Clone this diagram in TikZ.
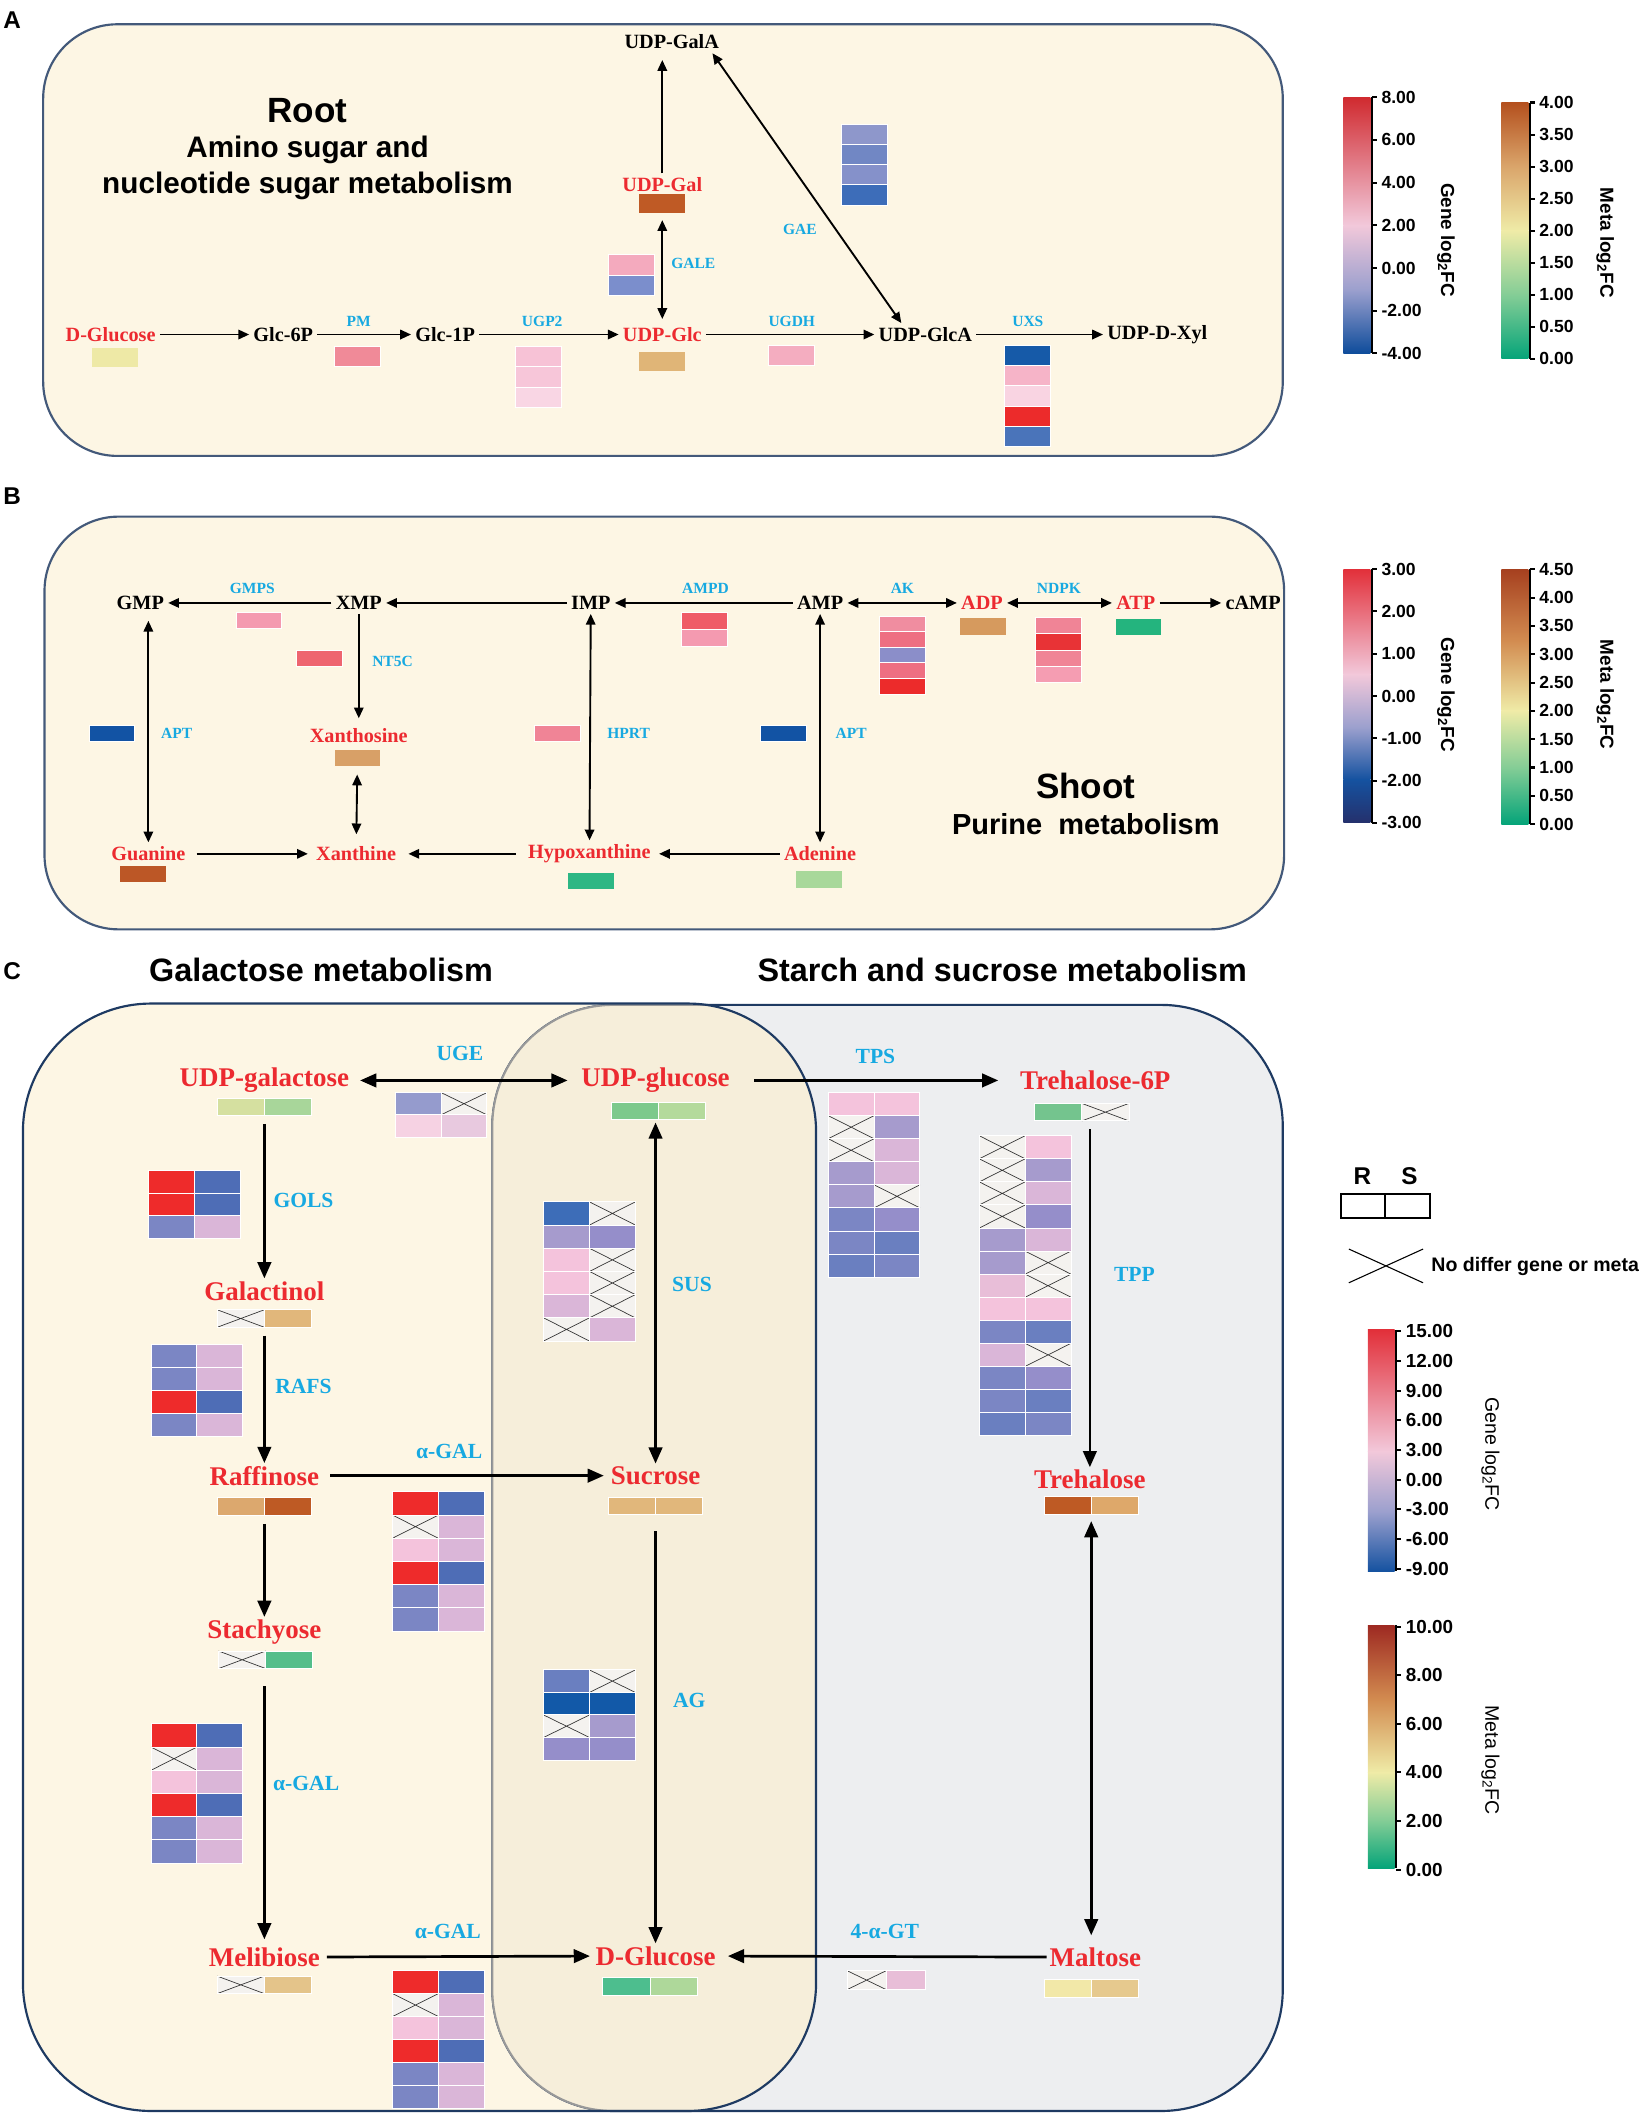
\documentclass[tikz,border=0pt]{standalone}
\usepackage{fontspec}
\setmainfont{Liberation Serif}
\setsansfont{Liberation Sans}
\usepackage{tikz}
\usetikzlibrary{arrows.meta, positioning}

% frame colours
\definecolor{cream}{HTML}{FDF6E4}
\definecolor{panelline}{HTML}{43597A}
\definecolor{navy}{HTML}{1E3A62}
\definecolor{starchbg}{HTML}{EDEEF0}
\definecolor{overlapbg}{HTML}{F6EEDA}
\definecolor{metred}{HTML}{EC2A30}
\definecolor{enzblue}{HTML}{17A9E1}
\definecolor{nodiff}{HTML}{F4F2EF}
% gene cells
\definecolor{hR}{HTML}{EE2B2B}
\definecolor{hB}{HTML}{4E6DB6}
\definecolor{hDB}{HTML}{1259A8}
\definecolor{hM}{HTML}{3D6DB8}
\definecolor{hL}{HTML}{7B86C4}
\definecolor{hL2}{HTML}{6A7FC0}
\definecolor{hLL}{HTML}{958ECA}
\definecolor{hLV}{HTML}{959BCD}
\definecolor{hV}{HTML}{A69BCD}
\definecolor{hPV}{HTML}{DAB6D8}
\definecolor{hPK}{HTML}{E8BED8}
\definecolor{hP}{HTML}{F4C3DC}
\definecolor{hPP}{HTML}{F6D2E3}
\definecolor{hPL}{HTML}{E8C9DF}
% metabolite cells
\definecolor{mYG}{HTML}{D5E0A0}
\definecolor{mG1}{HTML}{A8D69A}
\definecolor{mG2}{HTML}{7CC98C}
\definecolor{mG3}{HTML}{B4DA9C}
\definecolor{mG4}{HTML}{74C48E}
\definecolor{mG5}{HTML}{54BE8A}
\definecolor{mG6}{HTML}{4DBE8E}
\definecolor{mG7}{HTML}{AED89A}
\definecolor{mT1}{HTML}{E1B77B}
\definecolor{mT2}{HTML}{DCA86E}
\definecolor{mT3}{HTML}{E4C48A}
\definecolor{mT4}{HTML}{DEA86A}
\definecolor{mT5}{HTML}{E6C98E}
\definecolor{mBr}{HTML}{BE5A24}
\definecolor{mY}{HTML}{F2E8A8}
% panel A cells
\definecolor{aDG}{HTML}{EEE9A6}
\definecolor{aPM}{HTML}{F08A98}
\definecolor{aU1}{HTML}{F7C2D6}
\definecolor{aU2}{HTML}{F7C6D9}
\definecolor{aU3}{HTML}{F9D6E4}
\definecolor{aGlc}{HTML}{E0B577}
\definecolor{aUG}{HTML}{F4ADC0}
\definecolor{aX1}{HTML}{165AA8}
\definecolor{aX2}{HTML}{F6B4C8}
\definecolor{aX3}{HTML}{F9D4E2}
\definecolor{aX4}{HTML}{EC2B2B}
\definecolor{aX5}{HTML}{4A74BA}
\definecolor{aGal}{HTML}{BF5A25}
\definecolor{aGE1}{HTML}{F4AABE}
\definecolor{aGE2}{HTML}{7B8ECC}
\definecolor{aGA1}{HTML}{8E97CB}
\definecolor{aGA2}{HTML}{7187C4}
\definecolor{aGA3}{HTML}{8591CA}
\definecolor{aGA4}{HTML}{3D6DB9}
% panel B cells
\definecolor{bGMPS}{HTML}{F49AB0}
\definecolor{bAM1}{HTML}{EF5B67}
\definecolor{bAK1}{HTML}{F08DA0}
\definecolor{bAK2}{HTML}{EE6F82}
\definecolor{bAK3}{HTML}{8B8EC9}
\definecolor{bAK5}{HTML}{EC2B2B}
\definecolor{bADP}{HTML}{D69A5E}
\definecolor{bND1}{HTML}{F08496}
\definecolor{bND2}{HTML}{E83336}
\definecolor{bND4}{HTML}{F59DB2}
\definecolor{bATP}{HTML}{24B47E}
\definecolor{bNT}{HTML}{EE6570}
\definecolor{bXs}{HTML}{D8A067}
\definecolor{bAPT}{HTML}{1253A4}
\definecolor{bGua}{HTML}{BC5726}
\definecolor{bHx}{HTML}{2DB784}
\definecolor{bAde}{HTML}{A8D89A}
% scale bars
\definecolor{sgR}{HTML}{D02A2F}
\definecolor{sgR2}{HTML}{E2303A}
\definecolor{sgP}{HTML}{F2C8DA}
\definecolor{sgL}{HTML}{9CA0CE}
\definecolor{sgB}{HTML}{0E4C9B}
\definecolor{sgB2}{HTML}{1552A0}
\definecolor{sgN}{HTML}{25306C}
\definecolor{smDR}{HTML}{9E2A22}
\definecolor{smBr}{HTML}{B4501E}
\definecolor{smBr2}{HTML}{A6401F}
\definecolor{smO}{HTML}{D28B50}
\definecolor{smT}{HTML}{DAA56B}
\definecolor{smY}{HTML}{EFEBA7}
\definecolor{smLG}{HTML}{84CD96}
\definecolor{smG}{HTML}{05A479}

% heat cells, X = no differ
\def\hmX{X}
\def\cellw{34}
\def\cellh{15}
\newcommand{\hmcell}[3]{%
  \edef\hmarg{#3}%
  \ifx\hmarg\hmX
    \fill[nodiff] (#1,#2) rectangle ++(\cellw,\cellh);
    \draw[xline] (#1,#2) -- ++(\cellw,\cellh) ++(-\cellw,0) -- ++(\cellw,-\cellh);
  \else
    \fill[fill=\hmarg] (#1,#2) rectangle ++(\cellw,\cellh);
  \fi
  \draw[cellsep] (#1,#2) rectangle ++(\cellw,\cellh);}
\newcommand{\hmcol}[3]{%
  \foreach \hmA [count=\hmi from 0] in {#3} {\hmcell{#1}{#2+\hmi*\cellh}{\hmA}}}
\newcommand{\hmgrid}[3]{%
  \foreach \hmA/\hmB [count=\hmi from 0] in {#3} {%
    \hmcell{#1}{#2+\hmi*\cellh}{\hmA}
    \hmcell{#1+\cellw}{#2+\hmi*\cellh}{\hmB}}}
% R/S bar under a metabolite
\newcommand{\rsbar}[5]{%
  \node[mbarrs] at (#2,#3) (#1) {};
  \hmcell{#2-35}{#3-6.5}{#4}
  \hmcell{#2}{#3-6.5}{#5}}

\begin{document}
\begin{tikzpicture}[x=1pt, y=-1pt,
    met/.style={font=\bfseries\fontsize{15}{17}\selectfont, inner sep=3pt},
    metr/.style={met, text=metred},
    enz/.style={font=\bfseries\fontsize{11.5}{13}\selectfont, text=enzblue, inner sep=1pt},
    cmet/.style={font=\bfseries\fontsize{20}{22}\selectfont, text=metred, inner sep=2pt},
    cenz/.style={font=\bfseries\fontsize{16}{18}\selectfont, text=enzblue, inner sep=1pt},
    ptitle/.style={font=\sffamily\bfseries\fontsize{26}{30}\selectfont},
    psub/.style={font=\sffamily\bfseries\fontsize{22}{27}\selectfont, align=center},
    csub/.style={font=\sffamily\bfseries\fontsize{24}{28}\selectfont},
    pletter/.style={font=\sffamily\bfseries\fontsize{18}{20}\selectfont},
    panel/.style={draw=panelline, line width=1.6pt, fill=cream, rounded corners=55pt},
    arr/.style={line width=1.4pt, -{Triangle[length=8pt, width=7pt]}},
    darr/.style={line width=1.4pt, {Triangle[length=8pt, width=7pt]}-{Triangle[length=8pt, width=7pt]}},
    carr/.style={line width=2pt, -{Triangle[length=12pt, width=10pt]}},
    cdarr/.style={line width=2pt, {Triangle[length=12pt, width=10pt]}-{Triangle[length=12pt, width=10pt]}},
    mbox/.style={minimum width=34pt, minimum height=14pt, inner sep=0pt},
    mboxb/.style={minimum width=34pt, minimum height=12pt, inner sep=0pt},
    mbarrs/.style={minimum width=70pt, minimum height=13pt, inner sep=0pt},
    xline/.style={black!80, line width=0.5pt},
    cellsep/.style={white, line width=0.7pt},
    scaleaxis/.style={black, line width=1.5pt},
    ticklab/.style={anchor=west, inner sep=2.5pt, font=\sffamily\bfseries\fontsize{13}{15}\selectfont},
    cticklab/.style={ticklab, font=\sffamily\bfseries\fontsize{14}{16}\selectfont},
    scalelab/.style={rotate=-90, font=\sffamily\bfseries\fontsize{14}{16}\selectfont},
    cscalelab/.style={rotate=-90, font=\sffamily\fontsize{14.5}{16}\selectfont}]

    \useasboundingbox (0,0) rectangle (1221,1568);

    % ---------------- A ----------------
    \node[pletter] at (9,15) (la) {A};
    \draw[panel] (32,18) rectangle (951,338);
    \node[ptitle] at (228,82) (root) {Root};
    \node[psub] at (228,124.5) (rootsub) {Amino sugar and\\nucleotide sugar metabolism};

    \node[metr] at (82,248) (dglc) {D-Glucose};
    \node[met] at (210,248) (g6p) {Glc-6P};
    \node[met] at (330,248) (g1p) {Glc-1P};
    \node[metr] at (491,248) (udpglc) {UDP-Glc};
    \node[met] at (686,248) (udpglca) {UDP-GlcA};
    \node[met] at (858,248) (udpxyl) {UDP-D-Xyl};
    \node[metr] at (491,137) (udpgal) {UDP-Gal};
    \node[met] at (498,31) (udpgala) {UDP-GalA};

    \node[mbox, fill=aDG] at (85,265) (dglc-m) {};
    \node[mbox, fill=aGlc] at (491,268) (udpglc-m) {};
    \node[mbox, fill=aGal] at (491,151) (udpgal-m) {};

    \node[enz] at (266,238) (pm) {PM};
    \node[enz] at (402,238) (ugp2) {UGP2};
    \node[enz] at (587,238) (ugdh) {UGDH};
    \node[enz] at (762,238) (uxs) {UXS};
    \node[enz] at (514,195) (gale) {GALE};
    \node[enz] at (593,170) (gae) {GAE};

    \def\cellw{34}\def\cellh{15}
    \hmcol{248}{257}{aPM}
    \hmcol{382}{257}{aU1,aU2,aU3}
    \hmcol{570}{256}{aUG}
    \hmcol{745}{256}{aX1,aX2,aX3,aX4,aX5}
    \hmcol{451}{189}{aGE1,aGE2}
    \hmcol{624}{92}{aGA1,aGA2,aGA3,aGA4}

    \draw[arr] (dglc) -- (g6p);
    \draw[arr] (g6p) -- (g1p);
    \draw[arr] (g1p) -- (udpglc);
    \draw[arr] (udpglc) -- (udpglca);
    \draw[arr] (udpglca) -- (udpxyl);
    \draw[darr, shorten <=3pt, shorten >=5pt] (udpglc) -- (udpgal-m);
    \draw[arr, shorten >=5pt] (udpgal) -- (udpgal |- udpgala.south);
    \draw[darr] ([xshift=-8pt]udpgala.south east) -- ([xshift=20pt]udpglca.north west);

    % scales A
    \shade[top color=sgR, bottom color=sgP] (996,72) rectangle (1016,167);
    \shade[top color=sgP, bottom color=sgB, middle color=sgL] (996,167) rectangle (1016,262);
    \draw[scaleaxis] (1017,72) -- (1017,262);
    \foreach \v [count=\i from 0] in {8.00,6.00,4.00,2.00,0.00,-2.00,-4.00}
        \draw[scaleaxis] (1017,72+\i*31.67) -- ++(4,0) node[ticklab] (gA\i) {\v};
    \node[scalelab] at (1072,178) (gAlab) {Gene log\textsubscript{2}FC};

    \shade[top color=smBr, bottom color=smY, middle color=smT] (1113,76) rectangle (1133,171);
    \shade[top color=smY, bottom color=smG, middle color=smLG] (1113,171) rectangle (1133,266);
    \draw[scaleaxis] (1134,76) -- (1134,266);
    \foreach \v [count=\i from 0] in {4.00,3.50,3.00,2.50,2.00,1.50,1.00,0.50,0.00}
        \draw[scaleaxis] (1134,76+\i*23.75) -- ++(4,0) node[ticklab] (mA\i) {\v};
    \node[scalelab] at (1190,180) (mAlab) {Meta log\textsubscript{2}FC};

    % ---------------- B ----------------
    \node[pletter] at (9,368) (lb) {B};
    \draw[panel] (33,383) rectangle (952,689);

    \node[met] at (104,447) (gmp) {GMP};
    \node[met] at (266,447) (xmp) {XMP};
    \node[met] at (438,447) (imp) {IMP};
    \node[met] at (608,447) (amp) {AMP};
    \node[metr] at (728,447) (adp) {ADP};
    \node[metr] at (842,447) (atp) {ATP};
    \node[met] at (929,447) (camp) {cAMP};
    \node[metr] at (266,545) (xanthosine) {Xanthosine};
    \node[metr] at (110,633) (guanine) {Guanine};
    \node[metr] at (264,633) (xanthine) {Xanthine};
    \node[metr] at (437,633) (hypox) {Hypoxanthine};
    \node[metr] at (608,633) (adenine) {Adenine};

    \node[mboxb, fill=bADP] at (729,464.5) (adp-m) {};
    \node[mboxb, fill=bATP] at (844,465) (atp-m) {};
    \node[mboxb, fill=bXs] at (265,562) (xanthosine-m) {};
    \node[mboxb, fill=bGua] at (106,648) (guanine-m) {};
    \node[mboxb, fill=bHx] at (438,653) (hypox-m) {};
    \node[mboxb, fill=bAde] at (607,652) (adenine-m) {};

    \node[enz] at (187,436) (gmps) {GMPS};
    \node[enz] at (523,436) (ampd) {AMPD};
    \node[enz] at (669,436) (ak) {AK};
    \node[enz] at (785,436) (ndpk) {NDPK};
    \node[enz] at (291,490) (nt5c) {NT5C};
    \node[enz] at (131,544) (apt1) {APT};
    \node[enz] at (466,544) (hprt) {HPRT};
    \node[enz] at (631,544) (apt2) {APT};

    \def\cellh{12}
    \hmcol{175}{454}{bGMPS}
    \hmcol{220}{482}{bNT}
    \hmcol{66}{538}{bAPT}
    \hmcol{396}{538}{bND1}
    \hmcol{564}{538}{bAPT}
    \hmcol{768}{458}{bND1,bND2,bND1,bND4}
    \def\cellh{12.5}
    \hmcol{505}{454}{bAM1,bGMPS}
    \def\cellh{11.5}
    \hmcol{652}{457}{bAK1,bAK2,bAK3,bAK2,bAK5}

    \draw[arr] (xmp) -- (gmp);
    \draw[arr] (imp) -- (xmp);
    \draw[arr] (amp) -- (imp);
    \draw[darr] (amp) -- (adp);
    \draw[darr] (adp) -- (atp);
    \draw[arr] (atp) -- (camp);
    \draw[arr, shorten >=4pt] (xmp) -- (xanthosine);
    \draw[darr, shorten <=6pt, shorten >=6pt] (xanthosine-m) -- (xanthine);
    \draw[darr, shorten <=5pt] (gmp.south -| guanine) -- (guanine);
    \draw[darr] (imp) -- (hypox);
    \draw[darr] (amp) -- (adenine);
    \draw[arr, shorten <=5pt, shorten >=3pt] (guanine) -- (xanthine);
    \draw[arr, shorten <=6pt, shorten >=6pt] (hypox) -- (xanthine);
    \draw[arr, shorten >=3pt] (adenine) -- (hypox);

    \node[ptitle] at (805,583) (shoot) {Shoot};
    \node[psub, font=\sffamily\bfseries\fontsize{21.5}{25}\selectfont] at (805,611) (shootsub) {Purine~ metabolism};

    % scales B
    \shade[top color=sgR2, bottom color=sgP] (996,422) rectangle (1016,500);
    \shade[top color=sgP, bottom color=sgB2, middle color=sgL] (996,500) rectangle (1016,578);
    \shade[top color=sgB2, bottom color=sgN] (996,578) rectangle (1016,610);
    \draw[scaleaxis] (1017,422) -- (1017,610);
    \foreach \v [count=\i from 0] in {3.00,2.00,1.00,0.00,-1.00,-2.00,-3.00}
        \draw[scaleaxis] (1017,422+\i*31.33) -- ++(4,0) node[ticklab] (gB\i) {\v};
    \node[scalelab] at (1072,515) (gBlab) {Gene log\textsubscript{2}FC};

    \shade[top color=smBr2, bottom color=smY, middle color=smO] (1113,422) rectangle (1133,527);
    \shade[top color=smY, bottom color=smG, middle color=smLG] (1113,527) rectangle (1133,611);
    \draw[scaleaxis] (1134,422) -- (1134,611);
    \foreach \v [count=\i from 0] in {4.50,4.00,3.50,3.00,2.50,2.00,1.50,1.00,0.50,0.00}
        \draw[scaleaxis] (1134,422+\i*21) -- ++(4,0) node[ticklab] (mB\i) {\v};
    \node[scalelab] at (1190,515) (mBlab) {Meta log\textsubscript{2}FC};

    % ---------------- C ----------------
    \node[pletter] at (9,720) (lc) {C};
    \node[csub] at (238,719) (galtitle) {Galactose metabolism};
    \node[csub] at (743,719) (starchtitle) {Starch and sucrose metabolism};

    \fill[cream, rounded corners=95pt] (17,744) rectangle (605,1565);
    \fill[starchbg, rounded corners=90pt] (365,745) rectangle (951,1565);
    \draw[navy, line width=1.6pt, rounded corners=90pt] (365,745) rectangle (951,1565);
    \begin{scope}
        \clip[rounded corners=95pt] (17,744) rectangle (605,1565);
        \fill[overlapbg, rounded corners=90pt] (365,745) rectangle (951,1565);
        \draw[gray!80, line width=1.5pt, rounded corners=90pt] (365,745) rectangle (951,1565);
    \end{scope}
    \draw[navy, line width=1.6pt, rounded corners=95pt] (17,744) rectangle (605,1565);

    \node[cmet] at (196,801) (udpgalc) {UDP-galactose};
    \node[cmet] at (486,801) (udpglcc) {UDP-glucose};
    \node[cmet] at (812,801) (tre6p) {Trehalose-6P};
    \node[cmet] at (196,957) (galactinol) {Galactinol};
    \node[cmet] at (196,1094) (raffinose) {Raffinose};
    \node[cmet] at (486,1094) (sucrose) {Sucrose};
    \node[cmet] at (196,1210) (stachyose) {Stachyose};
    \node[cmet] at (196,1451) (melibiose) {Melibiose};
    \node[cmet] at (486,1450) (dglcc) {D-Glucose};
    \node[cmet] at (808,1097) (trehalose) {Trehalose};
    \node[cmet] at (812,1451) (maltose) {Maltose};

    \def\cellw{35}\def\cellh{13}
    \rsbar{udpgalc-m}{196}{820.5}{mYG}{mG1}
    \rsbar{udpglcc-m}{488}{823.5}{mG2}{mG3}
    \rsbar{tre6p-m}{802}{824.5}{mG4}{X}
    \rsbar{galactinol-m}{196}{977.5}{X}{mT1}
    \rsbar{raffinose-m}{196}{1117}{mT2}{mBr}
    \rsbar{sucrose-m}{486}{1116.5}{mT1}{mT1}
    \rsbar{stachyose-m}{197}{1230.5}{X}{mG5}
    \rsbar{melibiose-m}{196}{1471.5}{X}{mT3}
    \rsbar{dglcc-m}{482}{1472.5}{mG6}{mG7}
    \rsbar{trehalose-m}{809}{1116}{mBr}{mT4}
    \rsbar{maltose-m}{809}{1474}{mY}{mT5}

    \node[cenz] at (341,781) (uge) {UGE};
    \node[cenz] at (649,783) (tps) {TPS};
    \node[cenz] at (225,890) (gols) {GOLS};
    \node[cenz] at (513,952) (sus) {SUS};
    \node[cenz] at (841,945) (tpp) {TPP};
    \node[cenz] at (225,1028) (rafs) {RAFS};
    \node[cenz] at (333,1076) (agal1) {α-GAL};
    \node[cenz] at (227,1322) (agal2) {α-GAL};
    \node[cenz] at (511,1261) (ag) {AG};
    \node[cenz] at (332,1432) (agal3) {α-GAL};
    \node[cenz] at (656,1432) (agt) {4-α-GT};

    \def\cellw{34}\def\cellh{16.5}
    \hmgrid{293}{810}{hLV/X, hPP/hPL}
    \def\cellh{17.1}
    \hmgrid{614}{810}{hP/hP, X/hV, X/hPV, hV/hPV, hV/X, hL/hLL, hL/hL2, hL2/hL}
    \hmgrid{726}{842}{X/hP, X/hV, X/hPV, X/hLL, hV/hPV, hV/X, hPK/X, hP/hP,
        hL/hL2, hPV/X, hL/hLL, hL/hL2, hL2/hL}
    \def\cellh{16.7}
    \hmgrid{110}{868}{hR/hB, hR/hB, hL/hPV}
    \hmgrid{403}{1238}{hL2/X, hDB/hDB, X/hV, hLL/hLL}
    \def\cellh{17}
    \hmgrid{112}{997}{hL/hPV, hL/hPV, hR/hB, hL/hPV}
    \hmgrid{291}{1461}{hR/hB, X/hPV, hP/hPV, hR/hB, hL/hPV, hL/hPV}
    \def\cellh{17.2}
    \hmgrid{403}{891}{hM/X, hV/hLL, hP/X, hP/X, hPV/X, X/hPV}
    \hmgrid{291}{1106}{hR/hB, X/hPV, hP/hPV, hR/hB, hL/hPV, hL/hPV}
    \hmgrid{112}{1278}{hR/hB, X/hPV, hP/hPV, hR/hB, hL/hPV, hL/hPV}
    \def\cellw{29}\def\cellh{14}
    \hmgrid{628}{1461}{X/hPK}

    \draw[cdarr, shorten <=6pt, shorten >=8pt] (udpgalc) -- (udpglcc);
    \draw[carr, shorten <=16pt, shorten >=14pt] (udpglcc) -- (tre6p);
    \draw[carr, shorten <=6pt] (udpgalc-m) -- (galactinol);
    \draw[carr, shorten <=6pt] (galactinol-m) -- (raffinose);
    \draw[carr, shorten <=6pt] (raffinose-m) -- (stachyose.north -| raffinose-m);
    \draw[carr, shorten <=13pt, shorten >=4pt] (stachyose-m.south -| melibiose) -- (melibiose);
    \draw[cdarr, shorten <=2pt] (udpglcc-m.south -| sucrose) -- (sucrose);
    \draw[carr, shorten <=12pt] (sucrose-m) -- (dglcc);
    \draw[carr, shorten <=6pt, shorten >=3pt] (raffinose) -- (sucrose);
    \draw[carr, shorten <=3pt, shorten >=2pt] (melibiose) -- (dglcc);
    \draw[carr, shorten >=7pt] (maltose) -- (dglcc);
    \draw[carr, shorten <=6pt] (tre6p-m.south -| trehalose) -- (trehalose);
    \draw[cdarr, shorten <=5pt, shorten >=7pt] (trehalose-m) -- (trehalose-m |- maltose.north);

    % legend C
    \node[pletter] at (1010,872) (rlab) {R};
    \node[pletter] at (1045,872) (slab) {S};
    \node[draw, line width=1.2pt, minimum width=33pt, minimum height=18pt, inner sep=0pt] at (1010.5,894) (rcell) {};
    \node[draw, line width=1.2pt, minimum width=33pt, minimum height=18pt, inner sep=0pt] at (1043.5,894) (scell) {};
    \draw[line width=0.8pt] (1000,926) -- (1055,951) (1000,951) -- (1055,926);
    \node[anchor=west, inner sep=0pt, font=\sffamily\bfseries\fontsize{14.5}{16}\selectfont] at (1061,939) (nodifftxt) {No differ gene or meta};

    \shade[top color=sgR2, bottom color=sgP] (1014,986) rectangle (1034,1076);
    \shade[top color=sgP, bottom color=sgB2, middle color=sgL] (1014,1076) rectangle (1034,1165);
    \draw[scaleaxis] (1035,986) -- (1035,1165);
    \foreach \v [count=\i from 0] in {15.00,12.00,9.00,6.00,3.00,0.00,-3.00,-6.00,-9.00}
        \draw[scaleaxis] (1035,987+\i*22) -- ++(4,0) node[cticklab] (gC\i) {\v};
    \node[cscalelab] at (1105,1078) (gClab) {Gene log\textsubscript{2}FC};

    \shade[top color=smDR, bottom color=smY, middle color=smO] (1014,1205) rectangle (1034,1314);
    \shade[top color=smY, bottom color=smG, middle color=smLG] (1014,1314) rectangle (1034,1385);
    \draw[scaleaxis] (1035,1205) -- (1035,1385);
    \foreach \v [count=\i from 0] in {10.00,8.00,6.00,4.00,2.00,0.00}
        \draw[scaleaxis] (1035,1206+\i*36) -- ++(4,0) node[cticklab] (mC\i) {\v};
    \node[cscalelab] at (1105,1305) (mClab) {Meta log\textsubscript{2}FC};
\end{tikzpicture}
\end{document}
